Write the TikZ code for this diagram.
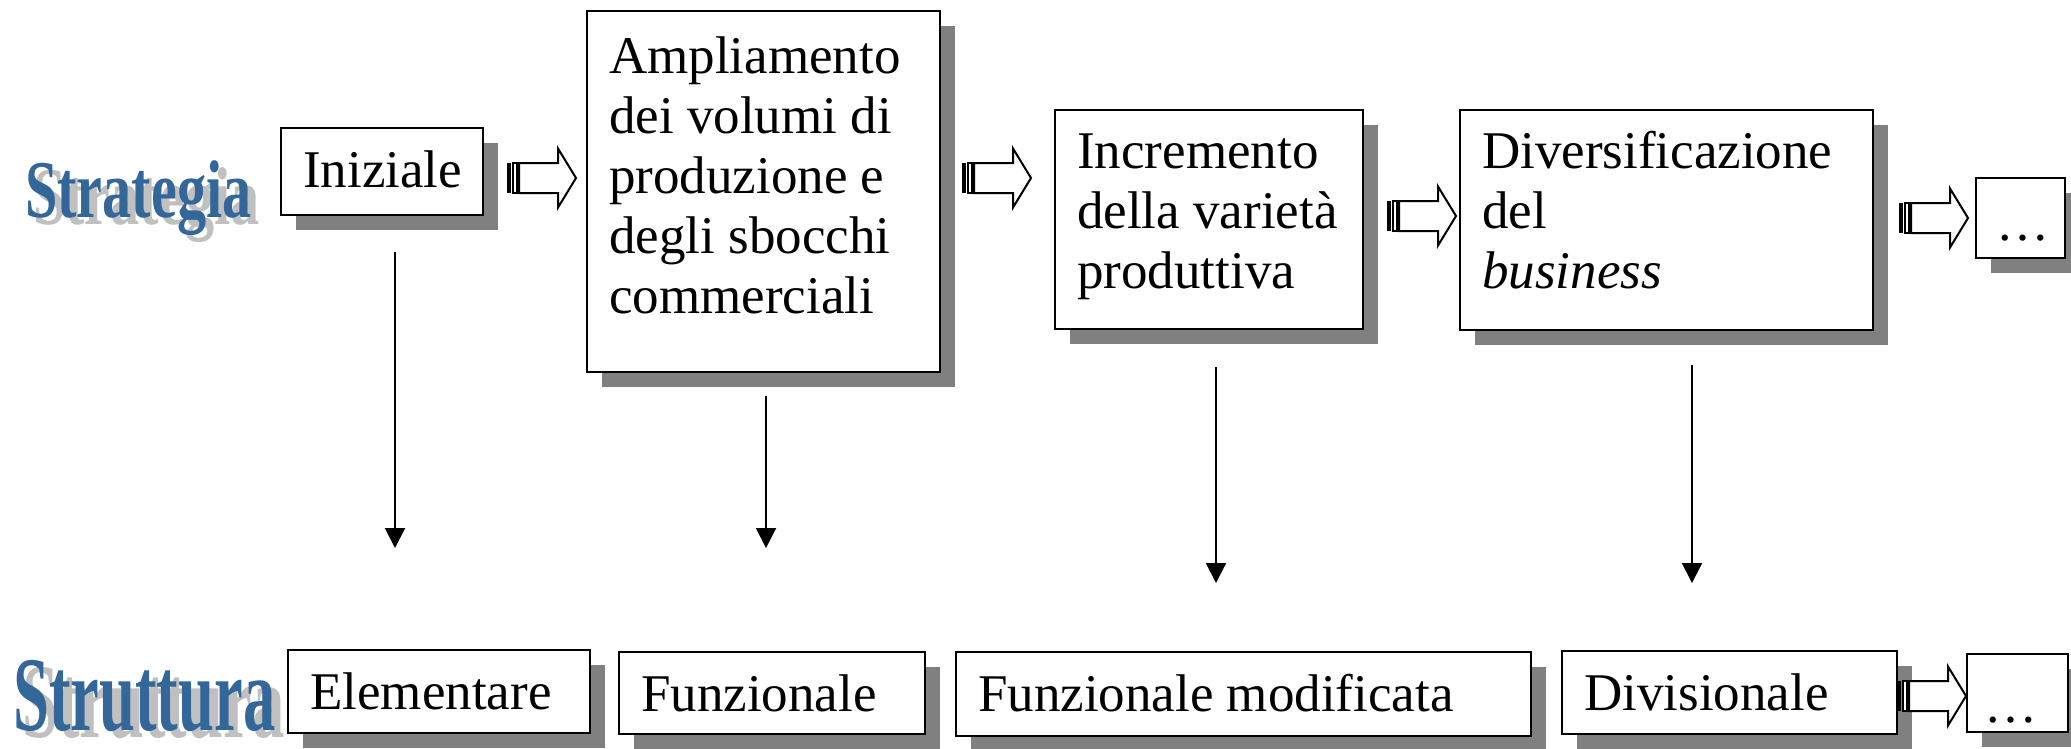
\documentclass[tikz,border=0pt]{standalone}
\usepackage{fontspec}
\setmainfont{Liberation Serif}
\usetikzlibrary{arrows.meta,shadows,calc}
\definecolor{shadowgray}{RGB}{128,128,128}
\definecolor{wablue}{RGB}{51,102,153}
\definecolor{wagray}{RGB}{192,192,192}
\newcommand\stripedarrow[2]{%
  \fill[black] (#1,#2-15) rectangle (#1+4,#2+15);
  \draw[line width=1.5pt,fill=white] (#1+6,#2-15) rectangle (#1+10,#2+15);
  \draw[barrow] (#1+12,#2-15) -- (#1+51,#2-15) -- (#1+51,#2-29.5) -- (#1+69,#2)
     -- (#1+51,#2+29.5) -- (#1+51,#2+15) -- (#1+12,#2+15) -- cycle;
}
\tikzset{
  stbox/.style={draw, line width=2.5pt, fill=white, outer sep=0pt, inner sep=0pt,
    anchor=north west,
    drop shadow={shadow xshift=15pt, shadow yshift=-15pt, opacity=1, fill=shadowgray}},
  stxt/.style={anchor=base west, inner sep=0pt, align=left,
    font=\fontsize{53}{60}\selectfont},
  dotxt/.style={anchor=base, inner sep=0pt, font=\fontsize{53}{60}\selectfont},
  vline/.style={line width=2pt, -{Triangle[width=20pt,length=20pt]}},
  barrow/.style={draw, line width=2pt, fill=white, line join=miter},
  wa/.style={anchor=base west, inner sep=0pt},
}
\begin{document}
\begin{tikzpicture}[x=1pt,y=-1pt]
\useasboundingbox (0,0) rectangle (2071,748);

% WordArt labels
\node[wa, text=wagray, font=\fontsize{82}{82}\selectfont\bfseries] (strategiaS) at (33,224) {\scalebox{0.71}[1]{Strategia}};
\node[wa, text=wablue, font=\fontsize{82}{82}\selectfont\bfseries] (strategia) at (25,217) {\scalebox{0.71}[1]{Strategia}};
\node[wa, text=wagray, font=\fontsize{106}{106}\selectfont\bfseries] (strutturaS) at (22,737) {\scalebox{0.61}[1]{Struttura}};
\node[wa, text=wablue, font=\fontsize{106}{106}\selectfont\bfseries] (struttura) at (13,730) {\scalebox{0.61}[1]{Struttura}};

% top boxes
\node[stbox, minimum width=202pt, minimum height=87pt] (ini) at (281,128) {};
\node[stxt] (iniT) at ($(ini.north west)+(22,59)$) {Iniziale};
\node[stbox, minimum width=353pt, minimum height=361pt] (amp) at (587,11) {};
\node[stxt] (ampT) at ($(amp.north west)+(22,302)$) {Ampliamento\\dei volumi di\\produzione e\\degli sbocchi\\commerciali};
\node[stbox, minimum width=308pt, minimum height=219pt] (inc) at (1055,110) {};
\node[stxt] (incT) at ($(inc.north west)+(22,178)$) {Incremento\\della varietà\\produttiva};
\node[stbox, minimum width=413pt, minimum height=220pt] (div) at (1460,110) {};
\node[stxt] (divT) at ($(div.north west)+(22,178)$) {Diversificazione\\del\\\textit{business}};
\node[stbox, minimum width=89pt, minimum height=80pt] (dA) at (1976,178) {};
\node[dotxt] (dAT) at (2023,240) {…};

% bottom boxes
\node[stbox, minimum width=302pt, minimum height=83pt] (ele) at (288,650) {};
\node[stxt] (eleT) at ($(ele.north west)+(22,59)$) {Elementare};
\node[stbox, minimum width=306pt, minimum height=82pt] (fun) at (619,652) {};
\node[stxt] (funT) at ($(fun.north west)+(22,59)$) {Funzionale};
\node[stbox, minimum width=575pt, minimum height=84pt] (fmod) at (956,652) {};
\node[stxt] (fmodT) at ($(fmod.north west)+(22,59)$) {Funzionale modificata};
\node[stbox, minimum width=335pt, minimum height=83pt] (dvs) at (1562,651) {};
\node[stxt] (dvsT) at ($(dvs.north west)+(22,59)$) {Divisionale};
\node[stbox, minimum width=101pt, minimum height=78pt] (dB) at (1967,654) {};
\node[dotxt] (dBT) at (2011,722) {…};

% striped block arrows
\stripedarrow{507}{178}
\stripedarrow{962}{178}
\stripedarrow{1387}{216}
\stripedarrow{1899}{218}
\stripedarrow{1897}{696}

% vertical arrows
\coordinate (v1s) at (395,252); \coordinate (v1e) at (395,548);
\coordinate (v2s) at (766,396); \coordinate (v2e) at (766,548);
\coordinate (v3s) at (1216,367); \coordinate (v3e) at (1216,583);
\coordinate (v4s) at (1692,365); \coordinate (v4e) at (1692,583);
\draw[vline] (v1s) -- (v1e);
\draw[vline] (v2s) -- (v2e);
\draw[vline] (v3s) -- (v3e);
\draw[vline] (v4s) -- (v4e);
\end{tikzpicture}
\end{document}
